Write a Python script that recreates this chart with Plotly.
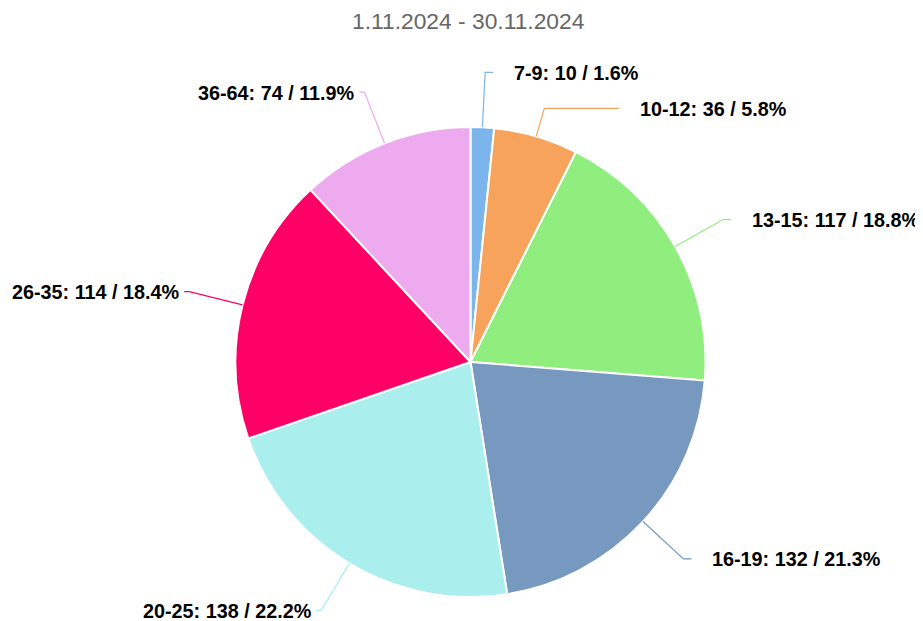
import math
import plotly.graph_objects as go

# ---- data ----
categories = ["7-9", "10-12", "13-15", "16-19", "20-25", "26-35", "36-64"]
values = [10, 36, 117, 132, 138, 114, 74]
colors = ["#7cb5ec", "#f7a35c", "#90ee7e", "#7798BF", "#aaeeee", "#ff0066", "#eeaaee"]
title_text = "1.11.2024 - 30.11.2024"

# ---- geometry (screen pixels) ----
SW, SH = 923, 621
OFF = 8                      # default page body margin
W, H = SW - OFF, SH - OFF    # figure size
CX, CY, R = 470.5, 362.0, 235.0
LABEL_DIST = 290.0
MIN_GAP = 36.0
PAD_RIGHT, PAD_LEFT = 8.0, 5.0
TEXT_OFF_RIGHT, TEXT_OFF_LEFT = 19.0, 2.0

def px_x(x):
    return (x - OFF) / W

def px_y(y):
    return 1 - (y - OFF) / H

fig = go.Figure()
fig.add_trace(go.Pie(
    labels=categories,
    values=values,
    sort=False,
    direction="clockwise",
    rotation=0,
    marker=dict(colors=colors, line=dict(color="#ffffff", width=2)),
    textinfo="none",
    hoverinfo="none",
    showlegend=False,
    domain=dict(x=[px_x(CX - R), px_x(CX + R)],
                y=[px_y(CY + R), px_y(CY - R)]),
))

total = sum(values)
items = []
cum = 0.0
for cat, v, col in zip(categories, values, colors):
    mid = (cum + v / 2) / total * 2 * math.pi
    cum += v
    right = math.sin(mid) >= 0
    items.append(dict(cat=cat, v=v, col=col, th=mid, right=right,
                      y=CY - LABEL_DIST * math.cos(mid)))

for side in (True, False):
    grp = sorted([it for it in items if it["right"] == side], key=lambda d: d["y"])
    for i in range(1, len(grp)):
        if grp[i]["y"] < grp[i - 1]["y"] + MIN_GAP:
            grp[i]["y"] = grp[i - 1]["y"] + MIN_GAP

shapes = []
annotations = []
for it in items:
    th = it["th"]
    sx, sy = CX + R * math.sin(th), CY - R * math.cos(th)
    ly = it["y"]
    c = math.cos(th)
    dist = (CY - ly) / c if abs(c) > 1e-3 else LABEL_DIST
    ex = CX + dist * math.sin(th)
    dy = ly - CY
    hx = math.sqrt(max(0.0, LABEL_DIST ** 2 - dy ** 2))
    if it["right"]:
        hend = CX + hx + PAD_RIGHT
        tx, xa = hend + TEXT_OFF_RIGHT, "left"
    else:
        hend = CX - hx - PAD_LEFT
        tx, xa = hend - TEXT_OFF_LEFT, "right"
    path = "M {} {} L {} {} L {} {}".format(px_x(sx), px_y(sy), px_x(ex), px_y(ly),
                                             px_x(hend), px_y(ly))
    shapes.append(dict(type="path", xref="paper", yref="paper", path=path,
                       line=dict(color=it["col"], width=1.2)))
    pct = it["v"] / total * 100
    annotations.append(dict(
        xref="paper", yref="paper", x=px_x(tx), y=px_y(ly + 0.5),
        xanchor=xa, yanchor="middle", showarrow=False,
        text="<b>{}: {} / {:.1f}%</b>".format(it["cat"], it["v"], pct),
        font=dict(family="Liberation Sans, Arial, sans-serif", size=19.8, color="#000000"),
    ))

annotations.append(dict(
    xref="paper", yref="paper", x=px_x(468.5), y=px_y(20.5), xanchor="center",
    yanchor="middle", showarrow=False, text=title_text,
    font=dict(family="Liberation Sans, Arial, sans-serif", size=22.8, color="#666666"),
))

fig.update_layout(
    width=W, height=H,
    margin=dict(l=0, r=0, t=0, b=0),
    paper_bgcolor="#ffffff", plot_bgcolor="#ffffff",
    shapes=shapes, annotations=annotations,
)
fig.write_html("out.html", config={"displayModeBar": False})
